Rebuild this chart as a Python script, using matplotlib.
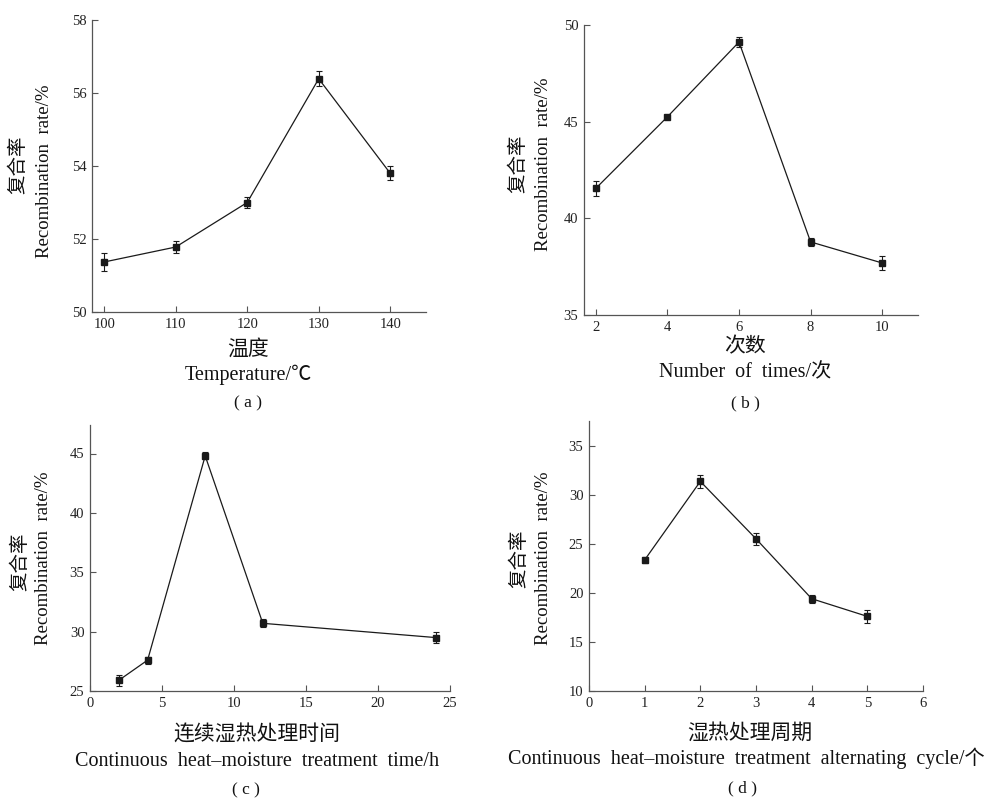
import matplotlib
matplotlib.use('Agg')
import matplotlib.pyplot as plt

W, H = 994, 799

# data
a_x = [100, 110, 120, 130, 140]
a_y = [51.37, 51.78, 53.0, 56.39, 53.8]
a_err = [0.26, 0.16, 0.16, 0.2, 0.19]

b_x = [2, 4, 6, 8, 10]
b_y = [41.55, 45.25, 49.12, 38.78, 37.69]
b_err = [0.4, 0.1, 0.26, 0.2, 0.36]

c_x = [2, 4, 8, 12, 24]
c_y = [25.9, 27.6, 44.8, 30.7, 29.5]
c_err = [0.45, 0.3, 0.3, 0.35, 0.45]

d_x = [1, 2, 3, 4, 5]
d_y = [23.35, 31.35, 25.5, 19.4, 17.6]
d_err = [0.3, 0.65, 0.6, 0.4, 0.7]

serif = ['Liberation Serif', 'Noto Sans CJK SC']
cjk = ['Noto Sans CJK SC']

fig = plt.figure(figsize=(W / 100, H / 100), dpi=100)


def make_axes(l, r, t, b):
    return fig.add_axes([l / W, 1 - b / H, (r - l) / W, (b - t) / H])


def style(ax, xlim, ylim, xticks, yticks):
    ax.set_xlim(*xlim)
    ax.set_ylim(*ylim)
    ax.set_xticks(xticks)
    ax.set_yticks(yticks)
    for s in ['top', 'right']:
        ax.spines[s].set_visible(False)
    for s in ['left', 'bottom']:
        ax.spines[s].set_color('#555555')
        ax.spines[s].set_linewidth(0.9)
    ax.tick_params(direction='in', length=4, width=0.8, color='#555555',
                   labelsize=10.5, pad=4, labelcolor='#222222')
    for lab in ax.get_xticklabels() + ax.get_yticklabels():
        lab.set_family(serif)


def draw(ax, x, y, e):
    ax.errorbar(x, y, yerr=e, fmt='s-', color='#1a1a1a', ms=5, lw=0.9,
                elinewidth=0.8, capsize=2.5, capthick=0.8)


def ftext(x, y, s, fam, size, rot=0):
    fig.text(x / W, 1 - y / H, s, family=fam, fontsize=size, rotation=rot,
             ha='center', va='center', color='#111111')


# (a)
ax = make_axes(92, 426, 20, 312)
draw(ax, a_x, a_y, a_err)
style(ax, (98.3, 145), (50, 58), [100, 110, 120, 130, 140], [50, 52, 54, 56, 58])
ftext(18, 165, '复合率', cjk, 14, 90)
ftext(45, 171, 'Recombination  rate/%', serif, 13.5, 90)
ftext(248, 349, '温度', cjk, 15)
ftext(248, 375, 'Temperature/℃', serif, 14.5)
ftext(248, 403, '( a )', serif, 12.5)

# (b)
ax = make_axes(584, 918, 25, 315)
draw(ax, b_x, b_y, b_err)
style(ax, (1.67, 11), (35, 50), [2, 4, 6, 8, 10], [35, 40, 45, 50])
ftext(518, 164, '复合率', cjk, 14, 90)
ftext(543, 164, 'Recombination  rate/%', serif, 13.5, 90)
ftext(745, 346, '次数', cjk, 15)
ftext(745, 373, 'Number  of  times/次', serif, 14.5)
ftext(745, 403, '( b )', serif, 12.5)

# (c)
ax = make_axes(90, 450, 425, 691)
draw(ax, c_x, c_y, c_err)
style(ax, (0, 25), (25, 47.4), [0, 5, 10, 15, 20, 25], [25, 30, 35, 40, 45])
ftext(20, 562, '复合率', cjk, 14, 90)
ftext(44, 558, 'Recombination  rate/%', serif, 13.5, 90)
ftext(257, 735, '连续湿热处理时间', cjk, 15)
ftext(257, 762, 'Continuous  heat\u2013moisture  treatment  time/h', serif, 14.5)
ftext(246, 790, '( c )', serif, 12.5)

# (d)
ax = make_axes(589, 923, 421, 691)
draw(ax, d_x, d_y, d_err)
style(ax, (0, 6), (10, 37.5), [0, 1, 2, 3, 4, 5, 6], [10, 15, 20, 25, 30, 35])
ftext(519, 559, '复合率', cjk, 14, 90)
ftext(543, 558, 'Recombination  rate/%', serif, 13.5, 90)
ftext(750, 733, '湿热处理周期', cjk, 15)
ftext(746, 758, 'Continuous  heat\u2013moisture  treatment  alternating  cycle/个', serif, 14.5)
ftext(743, 788, '( d )', serif, 12.5)

fig.savefig('out.png', dpi=100, facecolor='white')
